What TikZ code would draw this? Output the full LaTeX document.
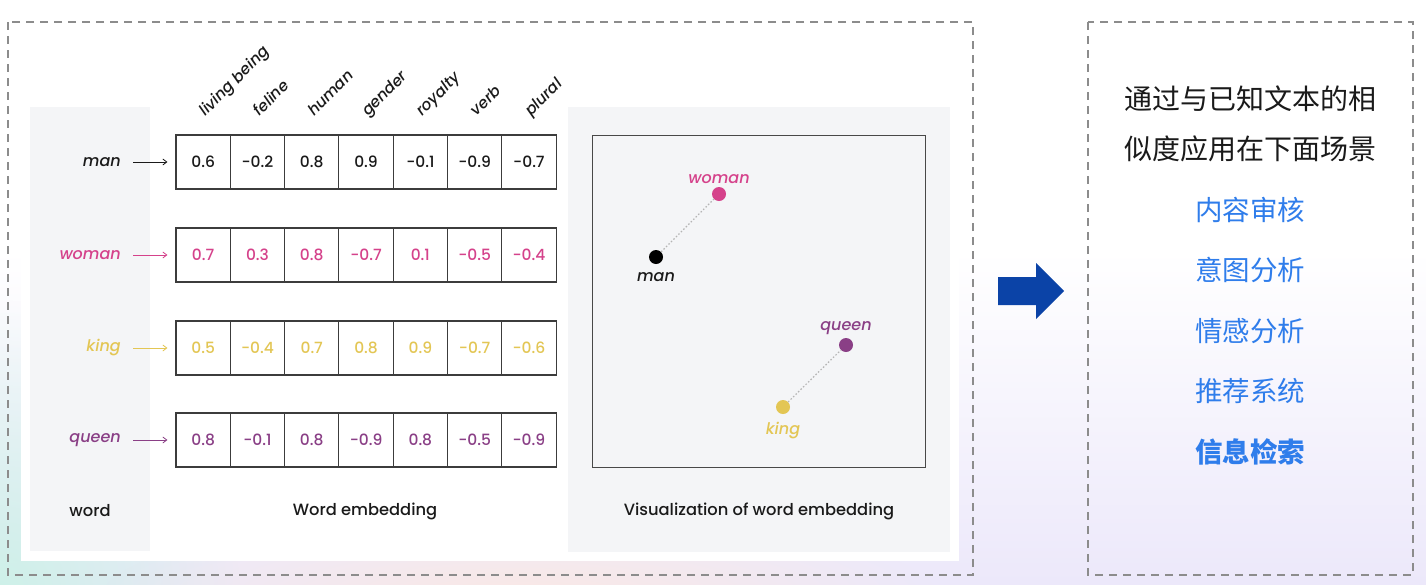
\documentclass[tikz,border=0pt]{standalone}
\usepackage{fontspec}
\newfontfamily\pop{Poppins}[UprightFont={Poppins Medium},ItalicFont={Poppins Medium Italic}]
\newfontfamily\cjk{Noto Sans CJK SC}
\usetikzlibrary{arrows.meta,positioning,calc,fadings}
\tikzfading[name=softspot,inner color=transparent!0,outer color=transparent!100]
\definecolor{ink}{HTML}{1A1A1A}
\definecolor{framegray}{HTML}{8C8C8C}
\definecolor{panelbg}{HTML}{F4F5F7}
\definecolor{rose}{HTML}{D5428B}
\definecolor{gold}{HTML}{E3C654}
\definecolor{plum}{HTML}{8A3F86}
\definecolor{sky}{HTML}{2F7DEB}
\definecolor{navy}{HTML}{0B43A7}
\definecolor{lav}{HTML}{ECE8FA}
\definecolor{mint}{HTML}{CDF1E8}
\definecolor{blush}{HTML}{FBE9E4}
\definecolor{dotline}{HTML}{B5B5B5}

\begin{document}
\begin{tikzpicture}[
  x=1pt,y=-1pt,
  cell/.style={draw=ink!85,line width=1.1pt,minimum width=54.3pt,minimum height=54pt,inner sep=0pt,font=\pop\fontsize{15.5}{18}\selectfont},
  wordlab/.style={font=\pop\itshape\fontsize{16}{19}\selectfont,inner sep=2pt},
  head/.style={font=\pop\itshape\fontsize{15.5}{18}\selectfont,rotate=45,anchor=base west,inner sep=0pt,text=ink},
  caption/.style={font=\pop\fontsize{16.3}{19}\selectfont,text=ink},
  rowarrow/.style={-{Straight Barb[length=4pt,width=6pt]},line width=.8pt},
  framebox/.style={draw=framegray,line width=1.6pt,dash pattern=on 8pt off 6pt},
  vecpt/.style={circle,inner sep=0pt,minimum size=14pt},
  link/.style={draw=dotline,line width=1.2pt,dash pattern=on 1.5pt off 2pt},
  intro/.style={font=\cjk\fontsize{28}{32}\selectfont,text=ink},
  usecase/.style={font=\cjk\fontsize{27.5}{32}\selectfont,text=sky}
]
\useasboundingbox (0,0) rectangle (1426,584);

% background
\fill[white] (0,0) rectangle (1426,584);
\shade[top color=white,bottom color=lav] (0,250) rectangle (1426,584);
\fill[mint,path fading=softspot] (0,600) ellipse (240 and 300);
\fill[blush,path fading=softspot] (520,600) ellipse (420 and 90);

% left frame with word embedding image
\draw[framebox] (8,22) rectangle (973,575);
\fill[white] (21,30) rectangle (959,561);
\fill[panelbg] (30,107) rectangle (150,551);
\fill[panelbg] (568,107) rectangle (950,552);

% header labels
\foreach \h [count=\i] in {living being,feline,human,gender,royalty,verb,plural}
  \node[head] (h\i) at (176+54.3*\i-25,117) {\h};

% embedding rows
\foreach \w/\c/\y/\vals in {man/ink/162/{0.6,-0.2,0.8,0.9,-0.1,-0.9,-0.7},
    woman/rose/255/{0.7,0.3,0.8,-0.7,0.1,-0.5,-0.4},
    king/gold/348/{0.5,-0.4,0.7,0.8,0.9,-0.7,-0.6},
    queen/plum/440/{0.8,-0.1,0.8,-0.9,0.8,-0.5,-0.9}}{
  \foreach \n [count=\i] in \vals
    \node[cell,text=\c] (\w-\i) at (176+54.3*\i-27.15,\y) {\n};
  \node[wordlab,text=\c,anchor=east] (\w) at (123,\y) {\w};
  \draw[rowarrow,draw=\c] ([xshift=10pt]\w.east) -- ([xshift=-8pt]\w-1.west);
}

\node[caption] (cword) at (90,511) {word};
\node[caption] (cemb) at (365,511) {Word embedding};

% visualization
\draw[ink!80,line width=1pt] (592,135) rectangle (925,467);
\node[vecpt,fill=rose] (vwoman) at (719,194) {};
\node[vecpt,fill=black] (vman) at (656,257) {};
\node[vecpt,fill=plum] (vqueen) at (846,345) {};
\node[vecpt,fill=gold] (vking) at (783,407) {};
\draw[link] (vman) -- (vwoman);
\draw[link] (vking) -- (vqueen);
\node[wordlab,text=rose,above=1pt of vwoman] {woman};
\node[wordlab,text=ink,below=6pt of vman] {man};
\node[wordlab,text=plum,above=1pt of vqueen] {queen};
\node[wordlab,text=gold,below=6pt of vking] {king};
\node[caption] (cviz) at (759,511) {Visualization of word embedding};

% arrow to applications
\fill[navy] (998,277) -- (1036,277) -- (1036,263) -- (1064,291) -- (1036,319)
  -- (1036,305) -- (998,305) -- cycle;

% applications
\draw[framebox] (1088,22) rectangle (1413,575);
\node[intro] (t1) at (1250,99) {通过与已知文本的相};
\node[intro] (t2) at (1250,149) {似度应用在下面场景};
\node[usecase] (u1) at (1250,210) {内容审核};
\node[usecase] (u2) at (1250,270) {意图分析};
\node[usecase] (u3) at (1250,331) {情感分析};
\node[usecase] (u4) at (1250,391) {推荐系统};
\node[usecase,font=\cjk\bfseries\fontsize{27.5}{32}\selectfont] (u5) at (1250,452) {信息检索};
\end{tikzpicture}
\end{document}
